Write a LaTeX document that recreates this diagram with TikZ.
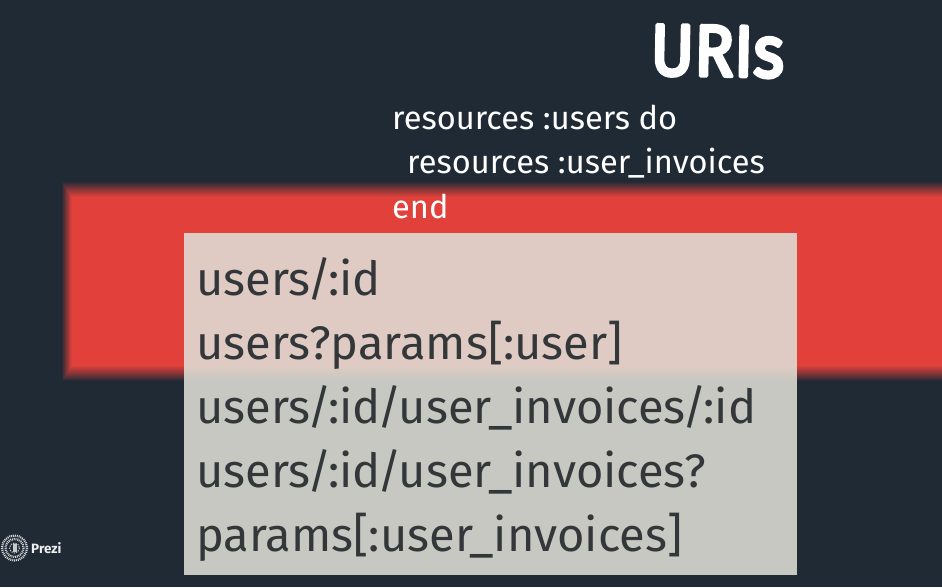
\documentclass[tikz,border=0pt]{standalone}
\usepackage{fontspec}
\setmainfont{Fira Sans}
\usetikzlibrary{calc}
\definecolor{bgc}{HTML}{1F2A35}
\definecolor{redc}{HTML}{E8413A}
\definecolor{boxc}{HTML}{DFDFD6}
\definecolor{inkc}{HTML}{33373A}
\newcommand{\tsl}{\kern-3.3pt/\kern-3.3pt}
\tikzset{
 code/.style={anchor=base west,inner sep=0pt,text=white,font=\fontsize{32.6}{32.6}\selectfont},
 uri/.style={anchor=base west,inner sep=0pt,text=inkc,font=\fontsize{47}{47}\selectfont},
 ring/.style={draw=white!80!bgc}
}
\begin{document}
\begin{tikzpicture}[x=1pt,y=-1pt]
\useasboundingbox (0,0) rectangle (942,587);
\fill[bgc] (0,0) rectangle (942,587);
% blurred red band
\foreach \i in {0,1,...,15}{
  \pgfmathsetmacro\mixv{100*((\i+0.5)/16)^0.9}
  \fill[redc!\mixv!bgc] ({62+0.65*\i},{182+\i}) rectangle (942,{381-\i});
}
% title
\node[anchor=base,inner sep=0pt,text=white,rotate=-1,xscale=.94,yscale=1.04] (title) at (717,76)
  {\fontsize{70}{70}\selectfont\special{pdf:code 2 Tr 3.5 w 1 J 1 j}URIs\special{pdf:code 0 Tr}};
% code
\node[code] (c1) at (392,129) {resources :users do};
\node[code] (c2) at (407,173) {resources :user\_invoices};
\node[code] (c3) at (392,218) {end};
% box
\fill[boxc,opacity=.88] (184,233) rectangle (797,575);
\node[uri] (u1) at (196,295) {users\tsl:id};
\node[uri] (u2) at (196,359) {users?params[:user]};
\node[uri] (u3) at (196,423) {users\tsl:id\tsl user\_invoices\tsl:id};
\node[uri] (u4) at (196,487) {users\tsl:id\tsl user\_invoices?};
\node[uri] (u5) at (196,551) {params[:user\_invoices]};
% logo
\foreach \r/\w/\d in {12.5/2.2/1.0,9/2.2/0.9}{
  \draw[ring,line width=\w pt,dash pattern=on \d pt off 0.9pt] (14.5,548) circle (\r);
}
\draw[ring,line width=1pt,dash pattern=on 1.2pt off 1.2pt] (14.5,548) circle (5);
\fill[white!75!bgc] (12.5,544) rectangle (16.5,552);
\node[anchor=base west,inner sep=0pt,text=white!92!bgc,font=\fontsize{13.5}{13.5}\selectfont\bfseries] (pz) at (31,553) {Prezi};
\end{tikzpicture}
\end{document}
